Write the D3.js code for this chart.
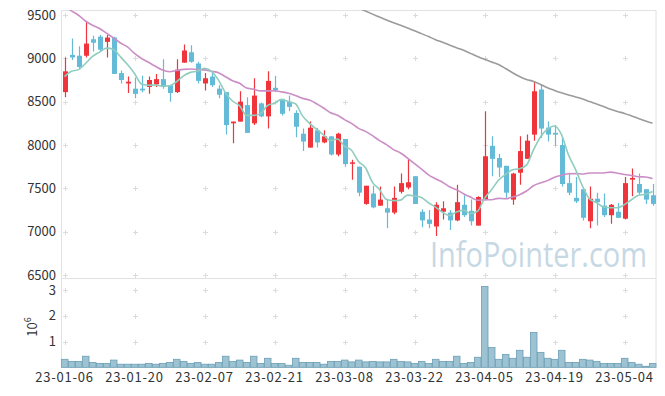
<!DOCTYPE html>
<html><head><meta charset="utf-8">
<script src="https://cdn.jsdelivr.net/npm/d3@7"></script>
<style>body{margin:0;background:#fff}svg{display:block}</style>
</head><body><svg id="c" width="665" height="396"></svg>
<script>
const dates = ["23-01-06","23-01-09","23-01-10","23-01-11","23-01-12","23-01-13","23-01-16","23-01-17","23-01-18","23-01-19",
"23-01-20","23-01-25","23-01-26","23-01-27","23-01-30","23-01-31","23-02-01","23-02-02","23-02-03","23-02-06",
"23-02-07","23-02-08","23-02-09","23-02-10","23-02-13","23-02-14","23-02-15","23-02-16","23-02-17","23-02-20",
"23-02-21","23-02-22","23-02-23","23-02-24","23-02-27","23-02-28","23-03-02","23-03-03","23-03-06","23-03-07",
"23-03-08","23-03-09","23-03-10","23-03-13","23-03-14","23-03-15","23-03-16","23-03-17","23-03-20","23-03-21",
"23-03-22","23-03-23","23-03-24","23-03-27","23-03-28","23-03-29","23-03-30","23-03-31","23-04-03","23-04-04",
"23-04-05","23-04-06","23-04-07","23-04-10","23-04-11","23-04-12","23-04-13","23-04-14","23-04-17","23-04-18",
"23-04-19","23-04-20","23-04-21","23-04-24","23-04-25","23-04-26","23-04-27","23-04-28","23-05-02","23-05-03",
"23-05-04","23-05-08","23-05-09","23-05-10","23-05-11"];
const open  = [8610,9040,9030,9030,9220,9250,9190,9240,8830,8710,8650,8650,8670,8700,8760,8690,8610,8950,9070,8940,
8710,8790,8650,8610,8250,8270,8460,8250,8480,8330,8660,8530,8500,8370,8130,7970,8170,8030,8100,7890,
8070,7790,7750,7320,7440,7300,7270,7220,7460,7510,7640,7230,7140,7060,7230,7220,7130,7310,7240,7070,
7370,7990,7850,7760,7370,7680,7840,8120,8640,8200,8140,8000,7560,7390,7490,7120,7380,7300,7190,7230,
7150,7600,7550,7490,7420];
const high  = [9010,9230,9140,9420,9260,9270,9270,9250,8860,8790,8780,8800,8790,8820,8990,8690,8990,9160,9150,8960,
8830,8840,8690,8610,8270,8620,8550,8770,8490,8850,8800,8530,8570,8400,8190,8270,8200,8170,8100,8140,
8070,7830,7750,7530,7530,7520,7380,7520,7670,7840,7640,7260,7250,7340,7350,7250,7540,7420,7370,7410,
8390,8100,7900,7760,7680,8100,8120,8730,8700,8270,8230,8090,7680,7630,7490,7520,7450,7440,7320,7330,
7630,7730,7670,7490,7550];
const low   = [8550,8980,8880,9010,9080,9080,9010,8820,8710,8600,8540,8610,8590,8670,8650,8500,8600,8950,8950,8710,
8630,8670,8540,8120,8020,8270,8140,8230,8320,8190,8610,8340,8390,8090,7930,7970,7970,8020,7880,7870,
7750,7600,7410,7310,7270,7300,7040,7200,7440,7490,7320,7050,7040,6950,7140,7020,7120,7170,7070,7070,
7370,7640,7630,7390,7310,7540,7840,8050,8080,8040,7990,7520,7420,7330,7130,7040,7070,7170,7090,7160,
7140,7410,7430,7320,7300];
const close = [8850,9010,8900,9170,9180,9100,9240,8820,8750,8730,8590,8630,8750,8760,8670,8600,8870,9090,8960,8740,
8770,8690,8580,8230,8270,8500,8140,8570,8330,8740,8630,8360,8440,8210,8040,8200,8030,8100,7890,8130,
7780,7800,7450,7530,7280,7370,7220,7390,7560,7570,7320,7130,7090,7310,7270,7130,7340,7190,7120,7400,
7870,7840,7740,7450,7670,7930,8050,8620,8190,8120,8120,7550,7450,7350,7160,7380,7340,7190,7310,7160,
7560,7620,7450,7370,7320];
const volume = [0.31,0.23,0.23,0.43,0.19,0.15,0.15,0.28,0.12,0.12,0.12,0.12,0.15,0.12,0.15,0.19,0.31,0.23,0.15,0.19,
0.12,0.12,0.19,0.43,0.23,0.28,0.19,0.43,0.15,0.35,0.15,0.15,0.08,0.35,0.19,0.19,0.19,0.12,0.23,0.23,
0.28,0.21,0.28,0.21,0.23,0.21,0.21,0.31,0.23,0.21,0.15,0.23,0.15,0.31,0.23,0.23,0.43,0.15,0.19,0.39,
3.14,0.77,0.31,0.50,0.35,0.66,0.39,1.35,0.58,0.35,0.31,0.66,0.19,0.19,0.31,0.28,0.23,0.15,0.15,0.15,
0.35,0.19,0.12,0.04,0.15];
const ma5 = [8790,8850,8870,8940,9022,9072,9118,9102,9018,8928,8826,8704,8690,8692,8680,8682,8730,8798,8838,8852,
8886,8850,8748,8602,8508,8454,8344,8342,8362,8456,8482,8526,8500,8476,8336,8250,8184,8116,8052,8070,
7986,7940,7810,7738,7568,7486,7370,7358,7364,7422,7412,7394,7334,7284,7224,7186,7228,7248,7210,7236,
7384,7484,7594,7660,7714,7726,7768,7944,8092,8182,8220,8120,7886,7718,7526,7378,7336,7284,7276,7276,
7312,7368,7420,7432,7464];
const ma20 = [9600,9547,9497,9431,9381,9344,9290,9235,9177,9131,9056,8998,8954,8908,8865,8846,8860,8873,8877,8871,
8867,8851,8835,8788,8742,8712,8657,8645,8624,8624,8626,8613,8597,8570,8538,8518,8476,8427,8373,8343,
8293,8249,8192,8157,8108,8051,8005,7946,7908,7849,7784,7722,7655,7610,7571,7518,7483,7438,7399,7363,
7367,7369,7384,7380,7399,7427,7469,7530,7562,7589,7629,7650,7668,7670,7665,7677,7677,7677,7687,7675,
7659,7648,7634,7630,7612];
const ma60 = [null,null,null,null,null,null,null,null,null,null,null,null,null,null,null,null,null,null,null,null,
null,null,null,null,null,null,null,null,null,null,null,null,null,null,null,null,null,null,null,null,
null,null,9581,9545,9510,9476,9442,9411,9381,9350,9319,9285,9251,9215,9185,9154,9123,9094,9057,9021,
8989,8958,8928,8883,8834,8790,8756,8734,8698,8660,8630,8602,8578,8555,8532,8501,8473,8444,8413,8387,
8364,8336,8306,8277,8250];
const priceTicks = [6500,7000,7500,8000,8500,9000,9500];
const volTicks = [1,2,3];
const xTickLabels = ["23-01-06","23-01-20","23-02-07","23-02-21","23-03-08","23-03-22","23-04-05","23-04-19","23-05-04"];

const svg = d3.select("#c");
const L = 61.5, R = 656, T = 10, MB = 278, VB = 367.5;
const font = "'Noto Sans CJK KR', 'Noto Sans', sans-serif";
const x = d3.scaleBand().domain(dates).range([61, 656]);
const cx = d => x(d) + x.bandwidth() / 2;
const y = d3.scaleLinear().domain([6500, 9500]).range([275, 15]);
const yv = d3.scaleLinear().domain([0, 3]).range([367.3, 290]);

svg.append("defs").append("clipPath").attr("id", "clipP")
  .append("rect").attr("x", L).attr("y", T).attr("width", R - L).attr("height", MB - T);

// watermark
svg.append("text").attr("x", 430).attr("y", 267).text("InfoPointer.com")
  .attr("font-family", "'Open Sans', sans-serif").attr("font-size", 34)
  .attr("textLength", 217).attr("lengthAdjust", "spacingAndGlyphs")
  .attr("fill", "#c6d8e4");

// grid crosses
const gc = svg.append("g").attr("stroke", "#dcdcdc").attr("stroke-width", 1);
const crossX = xTickLabels.map(cx);
function cross(px, py) {
  gc.append("line").attr("x1", px - 2.5).attr("x2", px + 2.5).attr("y1", py).attr("y2", py);
  gc.append("line").attr("x1", px).attr("x2", px).attr("y1", py - 2.5).attr("y2", py + 2.5);
}
crossX.forEach(px => {
  priceTicks.forEach(t => cross(Math.round(px) + 0.5, Math.round(y(t)) + 0.5));
  volTicks.forEach(t => cross(Math.round(px) + 0.5, Math.round(yv(t)) + 0.5));
});

// frame
const fr = svg.append("g").attr("stroke", "#e2e2e2").attr("fill", "none");
fr.append("line").attr("x1", L).attr("x2", L).attr("y1", T).attr("y2", VB);
fr.append("line").attr("x1", R).attr("x2", R).attr("y1", T).attr("y2", VB);
fr.append("line").attr("x1", L).attr("x2", R).attr("y1", T + 0.5).attr("y2", T + 0.5);
fr.append("line").attr("x1", L).attr("x2", R).attr("y1", MB + 0.5).attr("y2", MB + 0.5);
fr.append("line").attr("x1", L).attr("x2", R).attr("y1", VB).attr("y2", VB);

// volume bars
svg.append("g").selectAll("rect").data(dates).join("rect")
  .attr("x", d => x(d) + 0.5).attr("width", x.bandwidth() - 0.5)
  .attr("y", (d, i) => yv(volume[i])).attr("height", (d, i) => yv(0) - yv(volume[i]))
  .attr("fill", "#9dc3d3").attr("stroke", "#6b9fb6").attr("stroke-width", 0.8);

const plot = svg.append("g").attr("clip-path", "url(#clipP)");
const up = "#ef343b", dn = "#64bbd8";
// candles
const cg = plot.append("g");
dates.forEach((d, i) => {
  const col = close[i] >= open[i] ? up : dn;
  const px = Math.round(cx(d)) + 0.5;
  cg.append("line").attr("x1", px).attr("x2", px).attr("y1", y(high[i])).attr("y2", y(low[i]))
    .attr("stroke", col).attr("stroke-width", 1.2);
  const top = y(Math.max(open[i], close[i])), bot = y(Math.min(open[i], close[i]));
  cg.append("rect").attr("x", px - 2.5).attr("width", 5).attr("y", top)
    .attr("height", Math.max(1.5, bot - top)).attr("fill", col);
});
// moving averages
function mline(arr, color) {
  const ln = d3.line().defined(v => v != null).x((v, i) => cx(dates[i])).y(v => y(v)).curve(d3.curveMonotoneX);
  plot.append("path").attr("d", ln(arr)).attr("fill", "none").attr("stroke", color).attr("stroke-width", 1.6);
}
mline(ma60, "#9b9b9b");
mline(ma20, "#cb8ec6");
mline(ma5, "#8fcdbf");

// axes labels
const tg = svg.append("g").attr("font-family", font).attr("font-size", 13).attr("fill", "#333");
priceTicks.forEach(t => tg.append("text").attr("x", 56).attr("y", y(t)).attr("dy", "0.35em")
  .attr("text-anchor", "end").text(t));
volTicks.forEach(t => tg.append("text").attr("x", 56).attr("y", yv(t)).attr("dy", "0.35em")
  .attr("text-anchor", "end").text(t));
xTickLabels.forEach(t => tg.append("text").attr("x", cx(t)).attr("y", 382)
  .attr("text-anchor", "middle").attr("letter-spacing", 0.8).text(t));
const yl = tg.append("text").attr("transform", "translate(37,327) rotate(-90)").attr("text-anchor", "middle");
yl.append("tspan").text("10");
yl.append("tspan").attr("dy", -6).attr("font-size", 9).text("6");
</script></body></html>
